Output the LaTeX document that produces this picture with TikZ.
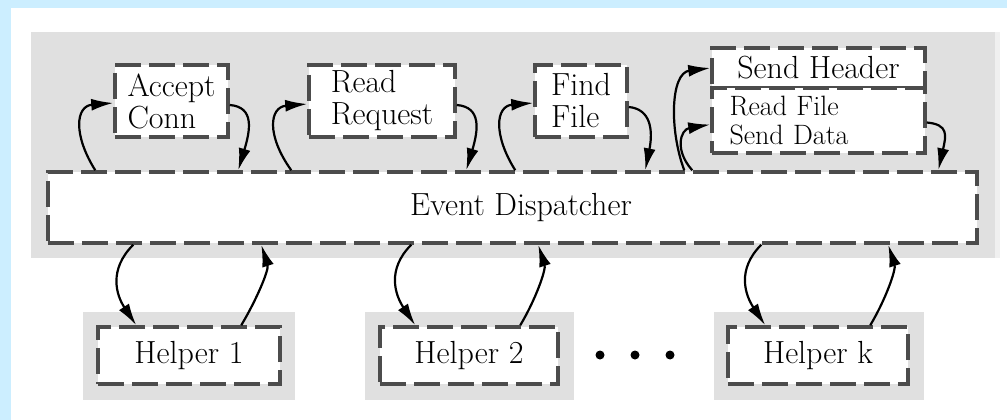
\documentclass[tikz,border=0pt]{standalone}
\usetikzlibrary{arrows.meta}
\definecolor{frameblue}{HTML}{CCEEFF}
\definecolor{panelgray}{HTML}{E0E0E0}
\definecolor{paleedge}{HTML}{F0F0F0}
\tikzset{
  box/.style={draw=black!70, line width=3.5pt, dash pattern=on 26pt off 8pt,
    fill=white, inner sep=0pt, font=\rmfamily\fontsize{32}{32}\selectfont},
  stack/.style={box, align=left},
  flow/.style={draw=black, line width=2.2pt, -{Latex[length=22pt,width=12pt]}},
  dot/.style={circle, fill=black, inner sep=0pt, minimum size=9pt}
}
\begin{document}
\begin{tikzpicture}[x=1pt,y=-1pt]
\useasboundingbox (0,0) rectangle (1007,420);
% page frame and grey panel
\fill[frameblue] (0,0) rectangle (1007,420);
\fill[white] (11,8) rectangle (1007,420);
\fill[paleedge] (995,32) rectangle (1000,258);
\fill[panelgray] (31,32) rectangle (995,258);
% helper shadows
\fill[panelgray] (83,312) rectangle (295,400);
\fill[panelgray] (365,312) rectangle (574,400);
\fill[panelgray] (714,312) rectangle (924,400);

% stages and dispatcher
\node[box, minimum width=929pt, minimum height=71pt] (disp) at (512.5,207.5) {\hspace*{17pt}Event Dispatcher};
\node[stack, minimum width=113pt, minimum height=72pt] (acc) at (171.5,101) {Accept\\Conn};
\node[stack, minimum width=146pt, minimum height=72pt] (req) at (382,101) {Read\\Request};
\node[stack, minimum width=92pt, minimum height=72pt] (find) at (581,101) {Find\\File};
\node[box, minimum width=213pt, minimum height=40pt] (hdr) at (818.5,68) {Send Header};
\node[stack, minimum width=213pt, minimum height=65pt, text width=178pt,
      font=\rmfamily\fontsize{28}{29}\selectfont] (rfile) at (818.5,120.5) {Read File\\Send Data};

% helpers
\node[box, minimum width=182pt, minimum height=57pt] (h1) at (189,355.5) {Helper 1};
\node[box, minimum width=178pt, minimum height=57pt] (h2) at (469,355.5) {Helper 2};
\node[box, minimum width=180pt, minimum height=57pt] (hk) at (818,355.5) {Helper k};
\node[dot] (d1) at (600,355) {};
\node[dot] (d2) at (635,355) {};
\node[dot] (d3) at (670,355) {};

% dispatcher <-> stages
\draw[flow] ([xshift=49pt]disp.north west) .. controls +(-22,-35) and +(-38,3) .. ([yshift=-2pt]acc.west);
\draw[flow] ([yshift=-4pt]acc.east) .. controls +(25,2) and +(12,-40) .. ([xshift=192pt]disp.north west);
\draw[flow] ([xshift=245pt]disp.north west) .. controls +(-25,-35) and +(-38,3) .. ([yshift=-3pt]req.west);
\draw[flow] ([yshift=-4pt]req.east) .. controls +(25,2) and +(12,-40) .. ([xshift=420pt]disp.north west);
\draw[flow] ([xshift=469pt]disp.north west) .. controls +(-22,-35) and +(-38,3) .. ([yshift=-2pt]find.west);
\draw[flow] ([yshift=-6pt]find.east) .. controls +(22,2) and +(8,-40) .. ([xshift=599pt]disp.north west);
\draw[flow] ([xshift=638pt]disp.north west) .. controls +(-15,-40) and +(-40,5) .. (hdr.west);
\draw[flow] ([xshift=646pt]disp.north west) .. controls +(-18,-20) and +(-30,5) .. ([yshift=-4pt]rfile.west);
\draw[flow] ([yshift=-2pt]rfile.east) .. controls +(22,2) and +(8,-35) .. ([xshift=892pt]disp.north west);

% dispatcher <-> helpers
\draw[flow] ([xshift=87pt]disp.south west) .. controls +(-25,25) and +(-20,-30) .. ([xshift=40pt]h1.north west);
\draw[flow] ([xshift=145pt]h1.north west) .. controls +(15,-25) and +(8,25) .. ([xshift=215pt]disp.south west);
\draw[flow] ([xshift=365pt]disp.south west) .. controls +(-25,25) and +(-20,-30) .. ([xshift=37pt]h2.north west);
\draw[flow] ([xshift=142pt]h2.north west) .. controls +(15,-25) and +(8,25) .. ([xshift=492pt]disp.south west);
\draw[flow] ([xshift=715pt]disp.south west) .. controls +(-25,25) and +(-20,-30) .. ([xshift=39pt]hk.north west);
\draw[flow] ([xshift=144pt]hk.north west) .. controls +(15,-25) and +(8,25) .. ([xshift=842pt]disp.south west);
\end{tikzpicture}
\end{document}
